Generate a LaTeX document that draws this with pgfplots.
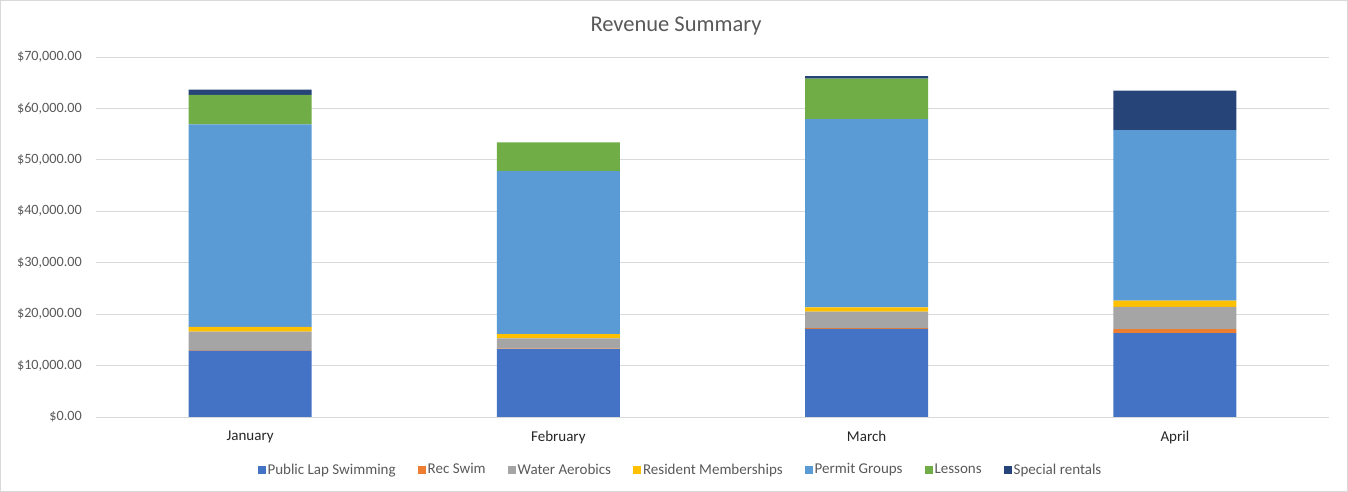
\documentclass[border=0pt]{standalone}
\usepackage{pgfplots}
\pgfplotsset{compat=1.18}
\usepackage{fontspec}
\setmainfont{Carlito}
\definecolor{cPLS}{HTML}{4472C4}
\definecolor{cRec}{HTML}{ED7D31}
\definecolor{cWA}{HTML}{A5A5A5}
\definecolor{cRes}{HTML}{FFC000}
\definecolor{cPer}{HTML}{5B9BD5}
\definecolor{cLes}{HTML}{70AD47}
\definecolor{cSpe}{HTML}{264478}
\definecolor{gridgray}{HTML}{D9D9D9}
\definecolor{txt}{HTML}{595959}
\begin{document}
\begin{tikzpicture}[x=1pt,y=1pt]
\draw[draw=gridgray, line width=1pt] (0.5,0.5) rectangle (1347.5,491.5);
\node[font=\fontsize{22.5}{26}\selectfont, text=txt] at (676,466) {Revenue Summary};
\begin{axis}[
  at={(96pt,75pt)}, anchor=south west,
  scale only axis, width=1233pt, height=360pt,
  xmin=-0.5, xmax=3.5, ymin=0, ymax=70000,
  ybar stacked, bar width=123pt,
  axis line style={draw=none},
  ytick distance=10000, scaled y ticks=false,
  ymajorgrids, grid style={gridgray, line width=0.8pt},
  major tick length=0pt,
  xtick=data, xticklabels={January,February,March,April},
  /pgf/number format/assume math mode=true,
  yticklabel={\$\pgfmathprintnumber[fixed,fixed zerofill,precision=2,1000 sep={,}]{\tick}},
  yticklabel style={font=\fontsize{14.2}{16}\selectfont, text=txt, inner sep=0pt, xshift=-14pt},
  xticklabel style={font=\fontsize{15}{17}\selectfont, text=black!85, inner sep=0pt, yshift=-14pt},
  legend columns=-1,
  legend style={at={(0.474,-0.146)}, anchor=center, draw=none, fill=none,
    font=\fontsize{15}{17}\selectfont, text=txt,
    /tikz/every even column/.append style={column sep=20pt},
    /tikz/every odd column/.append style={column sep=0pt}},
  legend image code/.code={\fill[#1] (0pt,-4pt) rectangle (8pt,4pt);},
  every axis plot/.append style={draw=none},
]
\addplot[fill=cPLS] coordinates {(0,12900) (1,13200) (2,17150) (3,16330)};
\addplot[fill=cRec] coordinates {(0,100) (1,100) (2,150) (3,780)};
\addplot[fill=cWA] coordinates {(0,3600) (1,2000) (2,3200) (3,4280)};
\addplot[fill=cRes] coordinates {(0,900) (1,830) (2,800) (3,1220)};
\addplot[fill=cPer] coordinates {(0,39400) (1,31700) (2,36600) (3,33190)};
\addplot[fill=cLes] coordinates {(0,5750) (1,5550) (2,7900) (3,0)};
\addplot[fill=cSpe] coordinates {(0,1000) (1,0) (2,500) (3,7680)};
\legend{Public Lap Swimming,Rec Swim,Water Aerobics,Resident Memberships,Permit Groups,Lessons,Special rentals}
\end{axis}
\end{tikzpicture}
\end{document}
